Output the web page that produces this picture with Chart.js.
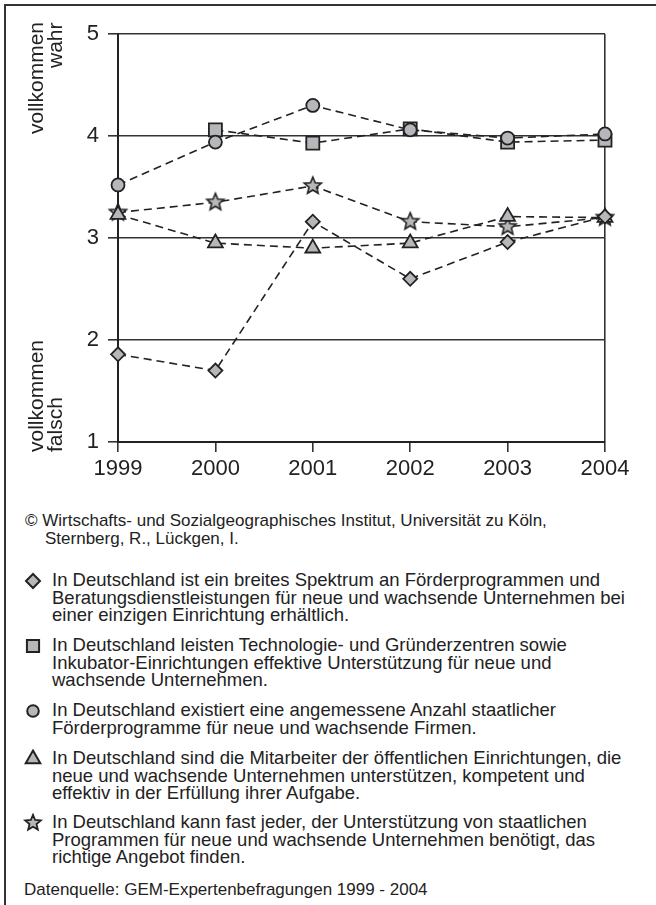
<!DOCTYPE html>
<html>
<head>
<meta charset="utf-8">
<script src="https://cdn.jsdelivr.net/npm/chart.js@4.4.1/dist/chart.umd.min.js"></script>
<style>
  html, body { margin: 0; padding: 0; background: #fff; }
  body { width: 656px; height: 905px; position: relative; overflow: hidden;
         font-family: "Liberation Sans", Arial, sans-serif; color: #222; }
  #frame { position: absolute; left: 4px; top: 4px; width: 700px; height: 950px;
           border-left: 2px solid #333; border-top: 2px solid #333; }
  #box { position: absolute; left: 0; top: 0; width: 656px; height: 500px; }
  .ytitle { position: absolute; writing-mode: vertical-rl; transform: rotate(180deg);
            font-size: 21px; line-height: 19px; white-space: nowrap; height: 120px; }
  .txt { position: absolute; font-size: 18.5px; line-height: 17.5px; white-space: nowrap; }
  .small { font-size: 17px; }
  .mk { position: absolute; left: 23px; width: 20px; height: 20px; }
</style>
</head>
<body>
<div id="frame"></div>
<div id="box"><canvas id="chart" width="656" height="500"></canvas></div>
<div class="ytitle" style="left:26px; top:22px; text-align:right;">vollkommen<br>wahr</div>
<div class="ytitle" style="left:26px; top:332px; text-align:left;">vollkommen<br>falsch</div>
<div id="notes"></div>

<script>
// data (GEM-Expertenbefragungen, 1 = vollkommen falsch, 5 = vollkommen wahr)
const years = ['1999', '2000', '2001', '2002', '2003', '2004'];
const spektrum    = [1.86, 1.70, 3.16, 2.60, 2.96, 3.21];
const zentren     = [null, 4.06, 3.93, 4.07, 3.94, 3.96];
const anzahl      = [3.52, 3.94, 4.30, 4.06, 3.98, 4.02];
const mitarbeiter = [3.23, 2.95, 2.90, 2.95, 3.21, 3.20];
const angebot     = [3.25, 3.35, 3.51, 3.16, 3.11, 3.20];
const yTicks = [1, 2, 3, 4, 5];

const legendTexts = [
  ['In Deutschland ist ein breites Spektrum an Förderprogrammen und',
   'Beratungsdienstleistungen für neue und wachsende Unternehmen bei',
   'einer einzigen Einrichtung erhältlich.'],
  ['In Deutschland leisten Technologie- und Gründerzentren sowie',
   'Inkubator-Einrichtungen effektive Unterstützung für neue und',
   'wachsende Unternehmen.'],
  ['In Deutschland existiert eine angemessene Anzahl staatlicher',
   'Förderprogramme für neue und wachsende Firmen.'],
  ['In Deutschland sind die Mitarbeiter der öffentlichen Einrichtungen, die',
   'neue und wachsende Unternehmen unterstützen, kompetent und',
   'effektiv in der Erfüllung ihrer Aufgabe.'],
  ['In Deutschland kann fast jeder, der Unterstützung von staatlichen',
   'Programmen für neue und wachsende Unternehmen benötigt, das',
   'richtige Angebot finden.']
];
const copyright = ['© Wirtschafts- und Sozialgeographisches Institut, Universität zu Köln,',
                   'Sternberg, R., Lückgen, I.'];
const source = 'Datenquelle: GEM-Expertenbefragungen 1999 - 2004';

const FILL = '#b5b7ba';
const INK = '#222';

function makeStar(R, lw) {
  const c = document.createElement('canvas');
  const s = Math.ceil(R * 2 + lw * 2 + 2);
  c.width = s; c.height = s;
  const g = c.getContext('2d');
  g.beginPath();
  for (let i = 0; i < 10; i++) {
    const r = i % 2 === 0 ? R : R * 0.45;
    const a = -Math.PI / 2 + i * Math.PI / 5;
    const px = s / 2 + r * Math.cos(a), py = s / 2 + r * Math.sin(a);
    if (i === 0) g.moveTo(px, py); else g.lineTo(px, py);
  }
  g.closePath();
  g.fillStyle = FILL; g.fill();
  g.lineWidth = lw; g.strokeStyle = INK; g.lineJoin = 'miter'; g.stroke();
  return c;
}

const series = [
  { label: legendTexts[0].join(' '), data: spektrum,    style: 'rectRot',  radius: 7,   order: 0 },
  { label: legendTexts[1].join(' '), data: zentren,     style: 'rect',     radius: 9.2, order: 2 },
  { label: legendTexts[2].join(' '), data: anzahl,      style: 'circle',   radius: 6.5, order: 1 },
  { label: legendTexts[3].join(' '), data: mitarbeiter, style: 'triangle', radius: 8.6, order: 3 },
  { label: legendTexts[4].join(' '), data: angebot,     style: makeStar(9, 1.6), radius: 9, order: 4 }
];

new Chart(document.getElementById('chart'), {
  type: 'line',
  data: {
    labels: years,
    datasets: series.map(s => ({
      label: s.label,
      data: s.data,
      order: s.order,
      borderColor: INK,
      borderWidth: 1.6,
      borderDash: [8, 5],
      fill: false,
      tension: 0,
      clip: false,
      pointStyle: s.style,
      pointRadius: s.radius,
      pointBackgroundColor: FILL,
      pointBorderColor: INK,
      pointBorderWidth: 1.8
    }))
  },
  options: {
    responsive: false,
    animation: false,
    layout: { padding: { left: 0, top: 34, right: 51, bottom: 0 } },
    plugins: { legend: { display: false }, tooltip: { enabled: false } },
    scales: {
      x: {
        offset: false,
        afterFit: s => { s.height = 58; },
        border: { color: INK, width: 2 },
        grid: {
          drawOnChartArea: true,
          color: c => c.index === years.length - 1 ? '#333' : 'rgba(0,0,0,0)',
          tickColor: '#333',
          lineWidth: 1.6,
          tickLength: 10
        },
        ticks: { color: INK, padding: 4, maxRotation: 0, font: { family: 'Liberation Sans', size: 22 } }
      },
      y: {
        min: 1, max: 5,
        afterFit: s => { s.width = 118; },
        afterBuildTicks: s => { s.ticks = yTicks.map(v => ({ value: v })); },
        border: { color: INK, width: 2 },
        grid: { color: '#333', lineWidth: 1.6, tickLength: 10 },
        ticks: { color: INK, padding: 9, font: { family: 'Liberation Sans', size: 22 } }
      }
    }
  }
});

// notes and legend below the chart
const notes = document.getElementById('notes');
function addText(lines, left, top, indent, cls) {
  const d = document.createElement('div');
  d.className = 'txt' + (cls ? ' ' + cls : '');
  d.style.left = left + 'px';
  d.style.top = top + 'px';
  d.innerHTML = lines.map((l, i) => i > 0 && indent ? `<span style="padding-left:${indent}px">${l}</span>` : l).join('<br>');
  notes.appendChild(d);
}
function addMarker(s, cy) {
  const c = document.createElement('canvas');
  c.className = 'mk';
  c.width = 20; c.height = 20;
  c.style.top = (cy - 10) + 'px';
  const g = c.getContext('2d');
  if (typeof s.style !== 'string') {
    const st = makeStar(8.2, 1.8);
    g.drawImage(st, 10 - st.width / 2, 10 - st.height / 2);
  } else {
    g.fillStyle = FILL; g.strokeStyle = INK; g.lineWidth = 2;
    const r = { rectRot: 7, rect: 8.6, circle: 5.8, triangle: 8.4 }[s.style];
    Chart.helpers.drawPoint(g, { pointStyle: s.style, radius: r, borderWidth: 2, rotation: 0 }, 10, 10);
  }
  notes.appendChild(c);
}

addText(copyright, 25, 512, 20, 'small');
const tops = [571, 636, 701, 749, 813];
series.forEach((s, i) => {
  addText(legendTexts[i], 52, tops[i]);
  addMarker(s, tops[i] + 9.5);
});
addText([source], 24, 881, 0, 'small');
</script>
</body>
</html>
